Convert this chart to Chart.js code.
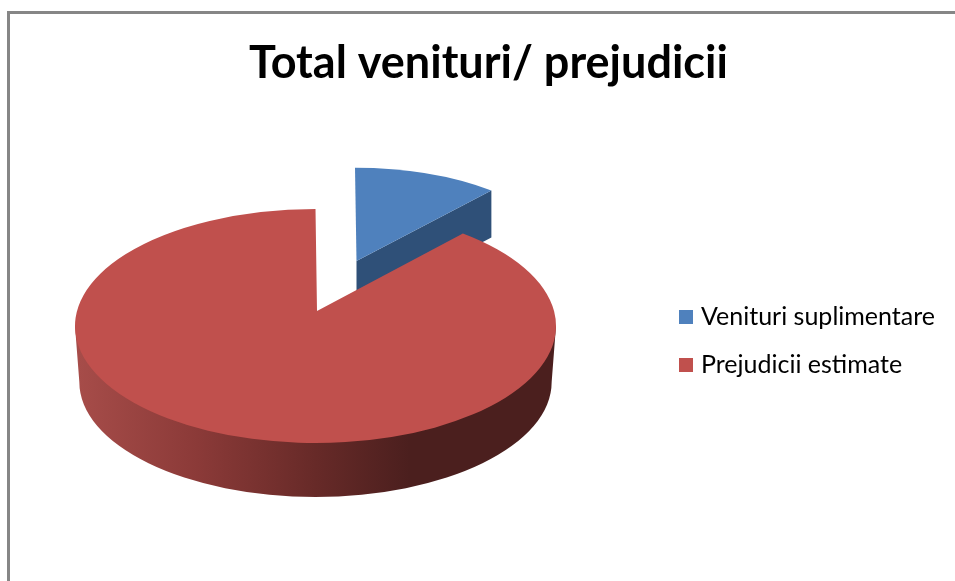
<!DOCTYPE html>
<html>
<head>
<meta charset="utf-8">
<style>
  html, body { margin: 0; padding: 0; background: #fff; overflow: hidden; }
  #frame { position: absolute; left: 7px; top: 11px; width: 1000px; height: 640px; border: 3px solid #868686; box-sizing: border-box; }
  #wrap { position: absolute; left: 0; top: 0; width: 955px; height: 581px; }
</style>
</head>
<body>
<div id="frame"></div>
<div id="wrap"><canvas id="chart" width="955" height="581"></canvas></div>
<script src="https://cdn.jsdelivr.net/npm/chart.js@4/dist/chart.umd.min.js"></script>
<script>
const chartTitle = 'Total venituri/ prejudicii';
const categories = ['Venituri suplimentare', 'Prejudicii estimate'];
const values = [10.5, 89.5];
const colors = ['#4f81bd', '#c0504d'];

// tilt of the fake 3D pie
const squash = 0.4865;
const apexShift = { x: 1.5, y: -15 };
const depth = 56;
const bottomScale = 0.982;
// the pulled out slice sits further back, so it is drawn a bit smaller
const explode = { dx: 39.5, dy: -50, scale: 0.925 };
const blueWall = '#2f5078';

const placeBoxes = {
  id: 'placeBoxes',
  afterLayout(chart) {
    const a = chart.chartArea;
    a.left = 0;
    a.right = 631;
    a.top = 100;
    a.bottom = 552;
    a.width = 631;
    a.height = 452;

    const l = chart.legend;
    const pad = l.options.labels.padding;
    const size = l.options.labels.font.size;
    l.left = 683.5 - pad;
    l.top = 317 - size / 2 - pad;
    l.bottom = 581;
    l.right = 955;
  }
};

const pie3d = {
  id: 'pie3d',
  beforeDatasetsDraw(chart) {
    const ctx = chart.ctx;
    const arcs = chart.getDatasetMeta(0).data;

    // back slice first
    const b = arcs[0];
    const bx = b.x + explode.dx;
    const by = b.y + explode.dy;
    const brx = b.outerRadius * explode.scale;
    const bry = brx * squash;
    const ax = bx + apexShift.x;
    const ay = by + apexShift.y;
    const cornerX = bx + Math.cos(b.endAngle) * brx;
    const cornerY = by + Math.sin(b.endAngle) * bry;
    const d = depth * explode.scale * 0.91;

    ctx.save();
    ctx.fillStyle = blueWall;
    ctx.beginPath();
    ctx.moveTo(ax, ay);
    ctx.lineTo(cornerX, cornerY);
    ctx.lineTo(cornerX, cornerY + d);
    ctx.lineTo(ax, ay + d);
    ctx.closePath();
    ctx.fill();

    ctx.fillStyle = b.options.backgroundColor;
    ctx.beginPath();
    ctx.moveTo(ax, ay);
    ctx.ellipse(bx, by, brx, bry, 0, b.startAngle, b.endAngle);
    ctx.closePath();
    ctx.fill();

    // big slice: rim then top
    const r = arcs[1];
    const rx = r.outerRadius;
    const ry = rx * squash;
    const lrx = rx * bottomScale;
    const lry = ry * bottomScale;
    const grad = ctx.createLinearGradient(r.x - lrx, 0, r.x + lrx, 0);
    grad.addColorStop(0, '#a64c49');
    grad.addColorStop(0.25, '#8b3a38');
    grad.addColorStop(0.5, '#672a28');
    grad.addColorStop(0.7, '#4b1f1e');
    grad.addColorStop(1, '#4b1f1e');
    ctx.fillStyle = grad;
    ctx.beginPath();
    ctx.moveTo(r.x - rx, r.y);
    ctx.lineTo(r.x - lrx, r.y + depth);
    ctx.ellipse(r.x, r.y + depth, lrx, lry, 0, Math.PI, 0, true);
    ctx.lineTo(r.x + rx, r.y);
    ctx.closePath();
    ctx.fill();

    ctx.fillStyle = r.options.backgroundColor;
    ctx.beginPath();
    ctx.moveTo(r.x + apexShift.x, r.y + apexShift.y);
    ctx.ellipse(r.x, r.y, rx, ry, 0, r.startAngle, r.endAngle);
    ctx.closePath();
    ctx.fill();
    ctx.restore();

    return false;
  }
};

// tiny spacing keeps Lato from joining "ti" into a ligature
document.getElementById('chart').getContext('2d').letterSpacing = '0.01px';

new Chart(document.getElementById('chart'), {
  type: 'pie',
  data: {
    labels: categories,
    datasets: [{ data: values, backgroundColor: colors, borderWidth: 0 }]
  },
  plugins: [placeBoxes, pie3d],
  options: {
    responsive: false,
    animation: false,
    radius: 240.5,
    layout: { padding: { left: 22 } },
    plugins: {
      tooltip: { enabled: false },
      title: {
        display: true,
        text: chartTitle,
        color: '#000',
        font: { family: 'Lato', size: 45, weight: 'bold' },
        padding: { top: 36, bottom: 10 }
      },
      legend: {
        position: 'right',
        align: 'start',
        labels: {
          color: '#000',
          font: { family: 'Lato', size: 25 },
          usePointStyle: true,
          pointStyle: 'rect',
          boxWidth: 5,
          boxHeight: 14,
          padding: 23
        }
      }
    }
  }
});
</script>
</body>
</html>
